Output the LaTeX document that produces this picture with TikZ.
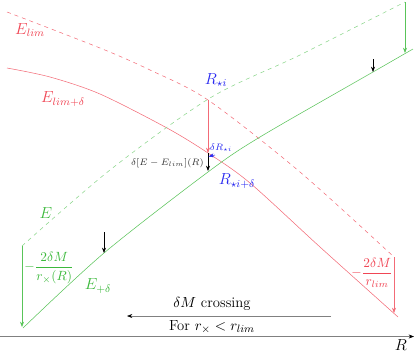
\documentclass[tikz,border=0pt]{standalone}
\usepackage{tikz}
\usetikzlibrary{arrows.meta, positioning, calc}
\definecolor{limred}{RGB}{240,70,85}
\definecolor{egreen}{RGB}{60,185,60}
\definecolor{rblue}{RGB}{40,40,240}
\tikzset{
  limline/.style={draw=limred!80},
  eline/.style={draw=egreen!85},
  drop/.style={-{Stealth[length=4pt, width=3pt]}},
  lbl/.style={inner sep=0pt},
}
\begin{document}
\begin{tikzpicture}[x=0.75pt, y=-0.75pt]
    \useasboundingbox (0,0) rectangle (415,354);
    % curves
    \draw[limline, dashed] plot[smooth] coordinates {(7,12) (100,48) (150,70) (208,100) (300,172) (394,257)};
    \draw[limline] plot[smooth] coordinates {(7,68) (50,77) (100,94) (167,128) (208,153) (250,183) (320,247) (398,317)};
    \draw[eline, dashed, draw=egreen!60] plot[smooth] coordinates {(22,246) (110,170) (210,98) (300,55) (405,2)};
    \draw[eline] plot[smooth] coordinates {(23,328) (104,253) (208,172) (260,137) (373,72) (413,49)};
    % points on the curves
    \coordinate (Rstar) at (208,100);
    \coordinate (RstarLim) at (208,153);
    \coordinate (RstarE) at (208,171);
    \coordinate (limEnd) at (394,257);
    \coordinate (limDeltaEnd) at (394,313);
    \coordinate (eStart) at (22,246);
    \coordinate (eDeltaStart) at (22,327);
    \coordinate (eEnd) at (405,2);
    \coordinate (eDeltaEnd) at (405,53);
    \coordinate (dropLtop) at (104,232);
    \coordinate (dropLbot) at (104,253);
    \coordinate (dropRtop) at (373,59);
    \coordinate (dropRbot) at (373,72);
    \coordinate (shiftA) at (215,155);
    \coordinate (shiftB) at (208.5,156.5);
    % vertical shifts
    \draw[drop, limred!80] (Rstar) -- (RstarLim);
    \draw[drop] (RstarLim) -- (RstarE);
    \draw[drop, limred!80] (limEnd) -- (limDeltaEnd);
    \draw[drop, egreen!85] (eStart) -- (eDeltaStart);
    \draw[drop, egreen!85] (eEnd) -- (eDeltaEnd);
    \draw[drop] (dropLtop) -- (dropLbot);
    \draw[drop] (dropRtop) -- (dropRbot);
    \draw[drop, rblue] (shiftA) -- (shiftB);
    % labels
    \node[lbl, limred] (Elim) at (30,30) {\large $E_{lim}$};
    \node[lbl, limred] (ElimD) at (63,99) {\large $E_{lim+\delta}$};
    \node[lbl, egreen] (E) at (46,213) {\large $E$};
    \node[lbl, egreen] (ED) at (98,286) {\large $E_{+\delta}$};
    \node[lbl, egreen] (dEx) at (49,268) {$\displaystyle -\frac{2\delta M}{r_\times(R)}$};
    \node[lbl, limred] (dElim) at (372,273) {$\displaystyle -\frac{2\delta M}{r_{lim}}$};
    \node[lbl, rblue] (Ri) at (216,80) {\large $R_{\star i}$};
    \node[lbl, rblue] (RiD) at (237,181) {\large $R_{\star i+\delta}$};
    \node[lbl, rblue] (dRi) at (221,148) {\scriptsize $\delta R_{\star i}$};
    \node[lbl, black!80, anchor=east] (dE) at (204,163) {\scriptsize $\delta[E-E_{lim}](R)$};
    % axis
    \coordinate (origin) at (0,336.5);
    \coordinate (axisEnd) at (414,336.5);
    \draw[gray, -{Stealth[black, length=4pt, width=3pt]}] (origin) -- (axisEnd);
    \node[lbl] (Rax) at (401,345) {\large $R$};
    % crossing direction
    \coordinate (crossR) at (331,316);
    \coordinate (crossL) at (127,316);
    \coordinate (crossMid) at (212,316);
    \draw[gray, -{Stealth[black, length=4pt, width=3pt]}] (crossR) -- (crossL);
    \node[lbl, above=4pt of crossMid, font=\fontsize{11}{13}\selectfont] (cross) {$\delta M$ crossing};
    \node[lbl, below=3pt of crossMid, font=\fontsize{11}{13}\selectfont] (cond) {For $r_\times < r_{lim}$};
  \end{tikzpicture}
\end{document}
